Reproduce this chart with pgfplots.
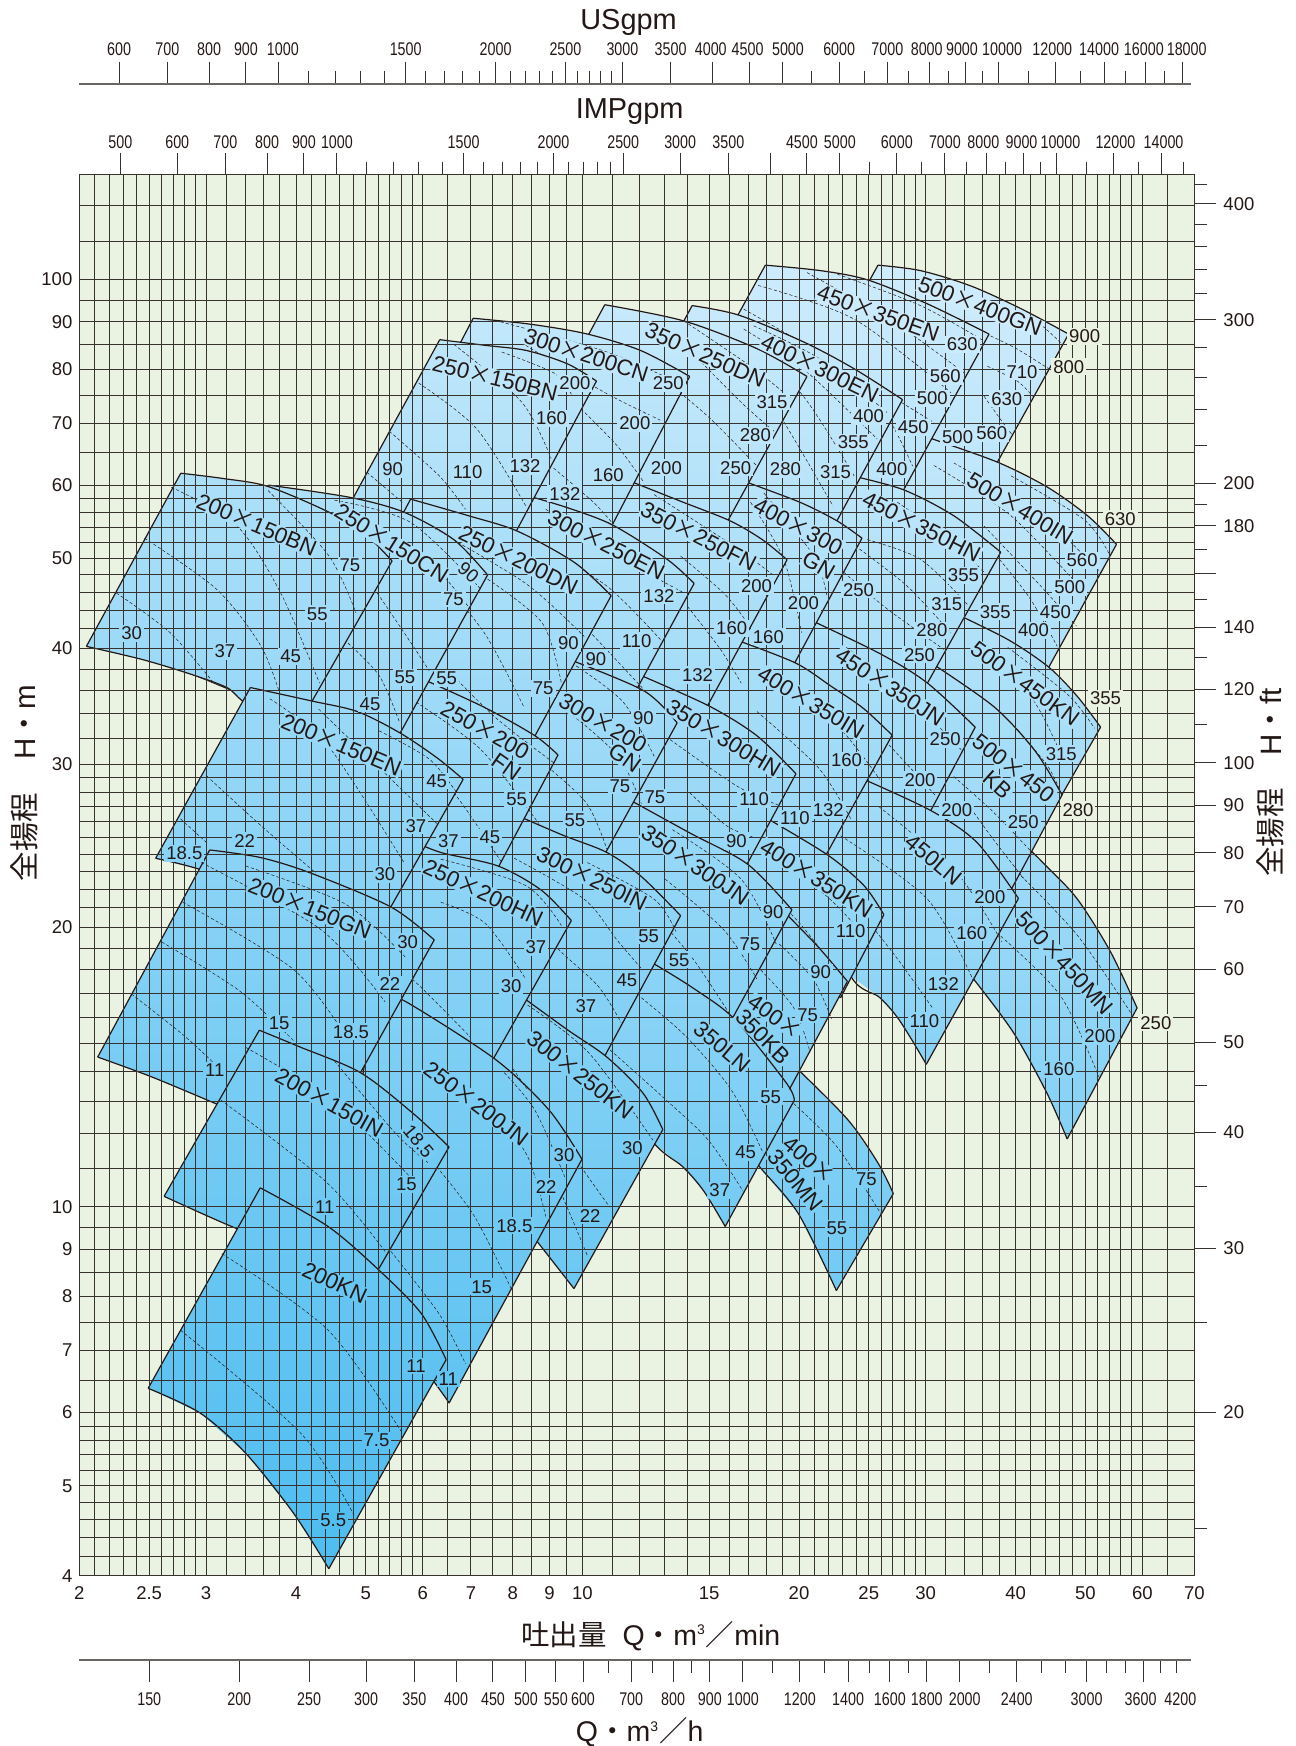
\documentclass[border=0pt]{standalone}
\usepackage{fontspec}
\usepackage{pgfplots}
\pgfplotsset{compat=1.18}
\setmainfont{Liberation Sans}
\newfontfamily\cjk{Noto Sans CJK JP}
\newfontfamily\narrowf[FakeStretch=0.78]{Liberation Sans}
\definecolor{lc}{RGB}{206,236,252}
\definecolor{dc}{RGB}{78,189,240}
\definecolor{bg}{RGB}{234,242,226}
\definecolor{gl}{RGB}{55,50,46}
\definecolor{ink}{RGB}{35,24,21}
\newcommand{\X}{{\cjk ×}}
\newcommand{\lab}{\fontsize{9.3}{9.3}\selectfont\color{ink}}
\newcommand{\smalllab}{\fontsize{9.2}{9}\selectfont\narrowf\color{ink}}
\newcommand{\sL}[2]{\hspace*{#1}#2\hspace*{-#1}}
\pgfplotsset{
 ol/.style={draw=ink,line width=.6bp,forget plot,line join=round},
 ds/.style={draw=ink,line width=.25bp,dash pattern=on 1.6bp off 1.1bp,smooth,forget plot},
}
\newcommand{\Reg}[8]{%
 \addplot[draw=none,top color=lc!#1!dc,bottom color=lc!#2!dc,forget plot] coordinates {#3 #4 #5 #6 #7 #8} -- cycle;
 \addplot[ol,smooth] coordinates {#3 #4 #5};
 \addplot[ol] coordinates {#5 #6};
 \addplot[ol,smooth] coordinates {#6 #7 #8};
 \addplot[ol] coordinates {#8 #3};
}
\newcommand{\D}[1]{\addplot[ds] coordinates {#1};}
\newcommand{\Lb}[4][0]{%
 \pgfmathsetmacro\T{min(100,max(0,100*(.000213*(#2-300)+.000774*(1400-#3))))}%
 \colorlet{hc}{lc!\T!dc}%
 \node[fill=hc,inner sep=1pt,rotate=#1,font=\lab] at (#2,#3) {#4};}
\newcommand{\LbO}[3]{\node[fill=bg,inner sep=1pt,font=\lab] at (#1,#2) {#3};}
\newcommand{\Nm}[4]{%
 \pgfmathsetmacro\T{min(100,max(0,100*(.000213*(#1-300)+.000774*(1400-#2))))}%
 \colorlet{hc}{lc!\T!dc}%
 \node[fill=hc,inner sep=.5pt,rotate=#3,font=\fontsize{11.2}{11.2}\selectfont\color{ink}] at (#1,#2) {#4};}
\begin{document}
\begin{tikzpicture}
\path[use as bounding box] (0,0) rectangle (648bp,873bp);
\begin{axis}[at={(39.7bp,85.15bp)},anchor=south west,scale only axis,width=557.5bp,height=700.5bp,
 xmode=log,ymode=log,xmin=2,xmax=70,ymin=4,ymax=129.7,
 axis background/.style={fill=bg},axis line style={draw=none},xtick=\empty,ytick=\empty,
]
% 500x400GN
\Reg{100}{86}{(25.52,103.6)}{(29.23,102.2)(34.3,98.4)(40.25,93.0)}{(46.87,87.3)}{(35.9,60.1)}{}{(19.58,71.3)}
\D{(36.18,93.7)(41.5,91.0)(45.7,85.4)}\D{(36.55,86.9)(39.8,84.1)(44.1,80.0)}\D{(36.18,80.6)(39.8,77.7)(41.8,74.8)}\D{(35.8,74.8)(37.75,70.6)(39.25,67.8)}
% 500x400IN
\Reg{91}{73}{(29.0,68.2)}{(30.35,67.3)(37.4,63.5)(43.8,59.7)(49.8,55.6)}{(54.6,51.8)}{(42.45,36.3)}{}{(22.6,47.9)}
\D{(39.0,61.4)(49.2,55.1)(53.4,50.5)}\D{(32.5,63.4)(42.9,55.6)(51.9,48.3)}\D{(30.5,63.0)(39.0,55.6)(49.8,45.6)}\D{(35.8,54.2)(42.45,47.1)(48.05,42.3)}\D{(37.6,49.9)(41.5,45.2)(45.2,40.2)}
% 450x350EN
\Reg{99}{82}{(17.82,103.6)}{(21.25,102.2)(24.66,99.9)(29.88,94.1)}{(36.37,87.3)}{(26.57,55.9)}{}{(13.02,66.4)}
\D{(22.42,101.3)(29.23,93.7)(35.7,85.9)}\D{(20.35,101.7)(26.85,89.9)(33.8,79.0)}\D{(17.42,98.5)(23.65,90.6)(32.2,75.5)}\D{(16.63,92.9)(21.95,82.0)(30.5,70.1)}\D{(24.15,76.1)(26.57,70.1)(28.5,62.9)}
% 500x450KN
\Reg{79}{65}{(32.3,43.8)}{(38.6,40.9)(43.96,38.2)(48.2,35.5)}{(51.9,32.9)}{(44.4,26.6)}{}{(27.6,35.5)}
\D{(38.6,40.1)(46.87,35.6)(50.9,32.8)}\D{(35.3,39.3)(41.4,35.6)(45.2,31.4)}
% 500x450MN
\Reg{64}{43}{(39.25,25.3)}{(43.65,23.3)(48.2,21.46)(53.55,18.84)}{(58.3,16.38)}{(46.65,11.83)}{(43.75,13.25)(39.35,15.39)(34.64,17.59)}{(33.0,18.33)}
\D{(40.25,22.75)(48.3,19.58)(57.4,16.1)}\D{(37.75,19.58)(45.7,16.87)(51.6,13.81)}
% 500x450KB
\Reg{74}{58}{(30.07,38.7)}{(36.95,34.6)(42.13,31.0)}{(45.9,27.8)}{(37.88,21.05)}{}{(24.84,29.5)}
\D{(32.5,29.1)(36.95,26.6)(41.5,24.2)}\D{(33.95,27.2)(37.0,24.8)(40.6,22.6)}\D{(39.8,32.7)(43.8,29.9)(45.7,28.0)}
% 450x350HN
\Reg{86}{70}{(23.5,61.4)}{(27.7,59.3)(32.5,55.6)}{(37.75,50.8)}{(28.7,34.7)}{}{(17.84,41.9)}
\D{(27.15,57.5)(32.5,52.0)(35.8,48.3)}\D{(24.66,52.4)(29.23,49.9)(34.0,44.55)}\D{(24.05,51.2)(28.0,46.7)(32.2,41.57)}\D{(22.9,48.3)(26.3,44.1)(31.5,39.9)}
% 400x300EN
\Reg{95}{79}{(14.11,93.7)}{(16.38,91.5)(20.14,85.6)(23.65,80.1)}{(27.6,74.2)}{(21.5,51.8)}{}{(11.0,65.5)}
\D{(17.17,89.1)(21.25,82.0)(26.3,71.8)}\D{(16.63,88.4)(20.14,80.0)(25.45,67.3)}\D{(16.27,85.6)(19.9,75.6)(23.65,61.4)}\D{(16.78,80.1)(18.9,70.2)(22.1,57.0)}
% 450x350JN
\Reg{75}{60}{(20.35,43.1)}{(25.74,39.45)(29.88,36.7)}{(34.8,32.9)}{(29.0,25.2)}{}{(17.0,33.0)}
\D{(23.07,40.1)(28.5,35.1)(33.4,31.0)}\D{(21.9,36.1)(25.6,32.3)(30.6,27.8)}
% 400x300GN
\Reg{83}{69}{(16.44,60.8)}{(19.9,57.5)(22.4,54.9)}{(24.25,52.6)}{(18.9,36.7)}{}{(12.8,42.4)}
\D{(17.73,58.85)(20.8,50.3)(21.7,45.5)}\D{(17.0,57.5)(18.9,49.9)(20.0,41.6)}
% 450LN
\Reg{66}{46}{(23.9,29.1)}{(30.18,26.75)(35.0,24.7)}{(39.95,21.5)}{(29.77,14.24)}{(28.55,15.05)(27.15,16.0)(25.64,16.82)(23.4,17.73)}{(20.7,22.55)}
\D{(25.6,27.0)(32.85,22.87)(37.88,19.3)}\D{(22.65,25.12)(29.88,21.46)(34.6,17.53)}\D{(23.5,21.34)(27.05,18.58)(30.4,16.36)}
% 400x350IN
\Reg{72}{56}{(16.17,40.9)}{(19.6,38.6)(21.95,36.44)(24.32,34.5)}{(26.7,32.25)}{(20.85,22.75)}{}{(12.6,28.86)}
\D{(17.98,37.1)(22.26,33.2)(25.65,28.9)}\D{(17.35,34.2)(21.1,29.75)(23.4,26.2)}
% 350x250DN
\Reg{94}{77}{(10.68,93.9)}{(13.74,90.2)(17.35,84.2)}{(20.35,78.6)}{(15.3,52.4)}{}{(8.05,62.6)}
\D{(13.74,90.2)(17.0,80.6)(19.3,74.5)}\D{(13.35,87.05)(16.5,73.7)(18.4,68.4)}\D{(12.5,79.5)(14.8,71.3)(17.35,62.9)}
% 350x250FN
\Reg{81}{64}{(11.33,61.0)}{(13.6,57.65)(15.93,54.9)(17.65,52.4)}{(19.1,49.85)}{(14.25,32.8)}{}{(8.49,40.1)}
\D{(12.5,58.6)(16.1,51.6)(18.2,48.1)}\D{(13.6,50.3)(15.6,45.9)(16.7,42.98)}\D{(13.9,44.4)(15.45,39.9)(16.5,36.7)}
% 400x350KN
\Reg{61}{48}{(17.66,26.4)}{(21.7,23.97)(24.4,22.2)}{(26.0,20.65)}{(22.65,16.8)}{}{(15.4,21.5)}
\D{(18.63,23.8)(21.9,21.46)(24.6,19.5)}\D{(17.35,22.55)(19.9,20.2)(22.4,17.95)}
% 400x350MN
\Reg{45}{28}{(18.63,14.68)}{(19.8,14.05)(23.2,12.4)(25.55,11.13)}{(26.8,10.33)}{(22.35,8.12)}{(19.8,9.83)(17.5,11.04)}{(16.73,11.6)}
\D{(19.5,12.92)(22.4,11.6)(25.75,9.83)}
% 400x350KB
\Reg{54}{40}{(18.63,21.05)}{(21.04,19.1)}{(23.15,17.5)}{(18.83,12.97)}{}{(15.6,16.4)}
\D{(18.63,19.2)(20.75,17.6)(22.0,15.95)}\D{(17.35,18.17)(19.5,16.4)(20.55,14.68)}
% 350x300HN
\Reg{68}{53}{(11.66,37.75)}{(14.86,34.7)(17.35,32.2)}{(19.65,29.3)}{(16.15,22.1)}{}{(9.62,28.5)}
\D{(13.15,31.9)(16.3,28.4)(18.7,27.05)}\D{(14.0,27.95)(15.75,25.75)(17.1,25.05)}
% 300x200CN
\Reg{90}{74}{(7.02,90.8)}{(8.4,89.5)(10.08,87.35)(11.98,83.8)}{(14.0,78.6)}{(10.55,51.5)}{}{(5.28,59.4)}
\D{(7.66,90.0)(10.75,83.5)(13.75,76.85)}\D{(8.3,84.9)(10.65,75.6)(12.75,70.5)}\D{(9.9,72.5)(11.1,66.2)(12.1,60.4)}\D{(9.07,62.6)(10.3,57.5)(10.94,54.6)}
% 300x250EN
\Reg{79}{63}{(8.25,58.6)}{(9.5,56.7)(10.97,54.3)(13.03,49.9)}{(14.2,47.0)}{(11.33,34.0)}{}{(6.58,42.4)}
\D{(8.85,56.5)(11.1,50.35)(13.75,45.9)}\D{(8.8,51.2)(10.75,46.7)(12.75,40.9)}\D{(8.85,46.3)(10.2,41.6)(12.1,36.1)}
% 350x300JN
\Reg{59}{43}{(11.33,27.7)}{(14.0,25.3)(16.85,23.4)}{(19.4,20.9)}{(15.5,15.2)}{}{(9.05,20.1)}
\D{(13.25,25.5)(16.5,22.55)(18.45,19.2)}\D{(12.95,22.55)(15.6,19.9)(17.35,17.6)}\D{(13.2,19.75)(14.3,18.3)(16.1,15.9)}
% 300x200GN
\Reg{67}{52}{(9.47,39.0)}{(12.1,36.0)}{(13.45,33.25)}{(10.3,22.8)}{}{(7.2,26.8)}
\D{(9.75,38.3)(11.33,35.0)(12.5,30.6)}\D{(9.5,34.2)(11.15,30.6)(12.0,27.2)}\D{(8.55,30.6)(10.05,27.3)(10.75,24.3)}
% 350LN
\Reg{49}{30}{(12.0,18.5)}{(12.5,18.27)(14.25,17.15)(16.2,15.9)(19.05,13.6)}{(19.55,13.03)}{(15.68,9.52)}{(14.65,10.39)(13.7,11.04)(12.5,11.7)}{(10.4,14.08)}
\D{(12.0,16.8)(13.85,15.25)(16.0,13.35)(17.7,11.42)}\D{(10.86,14.76)(12.85,13.13)(14.85,11.8)(16.6,10.39)}
% 250x150BN
\Reg{87}{72}{(6.31,86.1)}{(7.29,84.9)(8.33,83.8)(9.49,81.06)}{(10.4,77.7)}{(7.75,50.6)}{}{(4.67,56.1)}
\D{(5.0,61.95)(5.6,57.5)}\D{(5.37,68.6)(6.3,61.4)(6.85,56.5)}\D{(5.9,77.3)(7.1,69.0)(8.3,57.0)}\D{(6.6,85.1)(8.2,73.7)(9.0,64.1)}\D{(7.69,83.5)(9.1,79.2)(9.6,75.2)}
% 250x200DN
\Reg{76}{58}{(5.75,57.95)}{(6.92,55.6)(8.09,53.5)(9.7,49.5)}{(10.9,45.6)}{(8.25,30.6)}{}{(4.37,38.8)}
\D{(6.2,53.8)(8.3,47.0)(10.0,41.2)}\D{(7.35,47.5)(8.75,42.6)(9.3,36.7)}\D{(6.3,47.7)(7.3,41.4)(8.25,34.6)}
% 300x250IN
\Reg{56}{38}{(8.0,26.5)}{(9.35,25.15)(10.75,24.1)(12.0,22.7)}{(13.6,20.6)}{(10.3,13.8)}{}{(6.07,17.67)}
\D{(8.0,23.76)(10.0,21.46)(11.1,19.4)(12.05,18.0)}\D{(7.4,22.55)(9.18,19.0)(10.45,17.3)(11.25,15.8)}\D{(10.1,23.5)(12.5,21.46)(13.4,19.8)}
% 250x200FN
\Reg{64}{49}{(5.87,37.3)}{(7.25,34.6)(8.55,32.2)}{(9.2,30.7)}{(7.35,22.1)}{}{(4.7,26.85)}
\D{(6.67,37.0)(7.6,33.5)(9.08,30.1)}\D{(5.85,35.0)(7.2,31.1)(8.65,25.9)}\D{(5.7,31.9)(6.65,27.75)(7.69,23.5)}
% 250x150CN
\Reg{75}{56}{(3.655,60.0)}{(4.74,58.2)(5.63,56.1)(6.6,52.4)}{(7.35,48.0)}{(5.35,30.7)}{}{(2.67,38.4)}
\D{(4.51,57.8)(5.75,54.7)(7.2,46.3)}\D{(5.2,53.4)(6.2,49.0)(7.0,43.8)}\D{(5.17,45.9)(5.8,40.2)(6.1,37.85)}\D{(4.65,40.9)(5.2,37.4)(5.55,33.3)}
% 200x150BN
\Reg{74}{56}{(2.763,61.8)}{(3.16,61.0)(3.65,59.8)(4.43,56.1)(5.0,52.9)}{(5.42,49.7)}{(4.05,33.4)}{(3.56,34.2)(3.35,35.2)(3.2,36.3)(2.86,37.5)(2.45,38.9)}{(2.045,40.2)}
\D{(3.65,59.2)(4.43,50.35)(4.83,43.7)}\D{(2.68,59.7)(3.3,54.3)(3.8,45.9)(4.3,36.7)}\D{(2.46,52.6)(3.1,46.3)(3.57,40.2)(3.8,35.5)}\D{(2.25,45.9)(2.67,41.6)(3.07,36.7)}
% 300x250KN
\Reg{44}{23}{(8.1,16.96)}{(9.5,15.5)(10.75,14.5)(12.07,13.25)}{(12.85,12.11)}{(9.68,8.16)}{(8.6,9.18)(8.12,9.7)}{(7.35,14.48)}
\D{(8.35,16.5)(10.15,14.65)(12.45,11.8)}\D{(7.97,14.08)(9.95,10.98)(10.85,9.99)}\D{(8.85,11.3)(9.7,9.56)(10.1,8.86)}
% 250x200HN
\Reg{52}{36}{(5.75,24.85)}{(6.33,24.1)(7.6,23.3)(8.72,21.95)}{(9.6,20.35)}{(7.2,13.68)}{}{(4.35,16.65)}
\D{(6.33,23.7)(8.3,22.2)(9.3,20.1)}\D{(6.33,21.3)(7.3,20.2)(8.3,17.6)}\D{(5.2,18.85)(5.85,17.45)(6.95,15.25)}
% 200x150EN
\Reg{60}{43}{(3.45,36.3)}{(4.2,35.1)(4.85,34.2)(5.55,32.45)(6.25,30.5)}{(6.8,28.9)}{(5.2,20.0)}{(3.94,21.35)(2.94,23.1)}{(2.55,23.75)}
\D{(5.2,32.6)(6.1,30.4)(6.65,28.0)}\D{(4.29,34.4)(5.2,29.75)(6.25,25.9)}\D{(3.67,35.3)(4.42,31.4)(5.63,23.5)}\D{(3.0,29.15)(3.57,25.75)(4.25,22.9)}\D{(2.76,26.2)(3.0,24.7)}
% 250x200JN
\Reg{42}{13}{(5.16,17.1)}{(5.7,16.59)(7.55,14.4)(8.95,12.7)}{(9.93,11.25)}{(6.5,6.14)}{(6.2,6.47)}{(4.51,9.05)}
\D{(7.75,13.95)(8.55,12.7)(9.4,10.77)}\D{(7.55,12.6)(8.35,11.33)(8.85,9.76)}\D{(6.25,11.04)(7.05,9.76)(7.95,8.12)}\D{(5.4,8.95)(6.3,7.66)(6.85,6.77)}
% 200x150GN
\Reg{48}{29}{(3.03,24.25)}{(3.56,23.8)(4.18,22.9)(5.4,21.05)}{(6.2,19.4)}{(4.7,13.15)}{(3.6,12.27)(3.1,12.9)(2.52,13.8)}{(2.12,14.5)}
\D{(3.4,23.3)(4.67,21.2)(5.65,18.6)}\D{(2.95,23.5)(4.32,19.9)(5.3,16.63)}\D{(2.78,21.3)(3.95,18.05)(4.67,15.3)}\D{(2.6,19.3)(3.33,17.1)(3.96,15.1)}\D{(2.36,16.96)(2.79,15.3)(3.13,14.08)}
% 200x150IN
\Reg{36}{18}{(3.55,15.5)}{(4.03,14.88)(4.9,13.95)(5.8,12.6)}{(6.5,11.6)}{(5.0,8.14)}{(4.05,8.93)(3.27,9.5)}{(2.62,10.26)}
\D{(3.14,13.03)(4.4,10.62)(5.3,8.95)}\D{(3.4,14.85)(4.51,12.95)(5.9,10.53)}\D{(4.51,14.36)(5.48,12.0)(6.1,11.13)}
% 200KN
\Reg{25}{0}{(3.56,10.48)}{(4.42,9.52)(5.2,8.54)(5.95,7.67)}{(6.44,6.84)}{(4.43,4.07)}{(3.96,4.67)(3.4,5.42)(2.94,5.99)}{(2.49,6.37)}
\D{(3.15,8.9)(4.42,7.36)(5.6,5.7)}\D{(2.76,7.36)(4.05,5.7)(4.8,4.65)}
\end{axis}
% grid, frame and main tick labels over the regions
\begin{axis}[at={(39.7bp,85.15bp)},anchor=south west,scale only axis,width=557.5bp,height=700.5bp,
 xmode=log,ymode=log,xmin=2,xmax=70.88,ymin=4,ymax=129.7,
 axis line style={draw=gl,line width=.6bp},
 major tick length=0pt,minor tick length=0pt,
 xtick={2,2.5,3,4,5,6,7,8,9,10,15,20,25,30,40,50,60,70.88},
 xticklabels={2,2.5,3,4,5,6,7,8,9,10,15,20,25,30,40,50,60,70},
 ytick={4,5,6,7,8,9,10,20,30,40,50,60,70,80,90,100},
 yticklabels={4,5,6,7,8,9,10,20,30,40,50,60,70,80,90,100},
 minor xtick={2.1,2.2,2.3,2.4,2.6,2.7,2.8,2.9,3.2,3.4,3.6,3.8,4.2,4.4,4.6,4.8,5.2,5.4,5.6,5.8,6.5,7.5,8.5,9.5,11,12,13,14,16,17,18,19,21,22,23,24,26,27,28,29,32,34,36,38,42,44,46,48,52,54,56,58,65},
 minor ytick={4.2,4.4,4.6,4.8,5.2,5.4,5.6,5.8,6.5,7.5,8.5,9.5,11,12,13,14,15,16,17,18,19,21,22,23,24,25,26,27,28,29,32,34,36,38,42,44,46,48,52,54,56,58,65,75,85,95,110,120},
 grid=both,major grid style={draw=gl,line width=.5bp},minor grid style={draw=gl,line width=.5bp},
 tick label style={font=\lab},xticklabel style={yshift=-2bp},
]
\end{axis}
% US gpm scale
\begin{axis}[at={(39.7bp,831.15bp)},anchor=north west,scale only axis,width=555.85bp,height=1bp,xmode=log,xmin=528.4,xmax=18492,ymin=0,ymax=1,
 axis y line=none,axis x line*=top,axis line style={draw=gl!75,line width=1.1bp,-},clip=false,
 tick align=outside,major tick length=11bp,minor tick length=6.5bp,tick style={color=gl,line width=.5bp},tick label style={font=\smalllab},
 xticklabel style={yshift=-.5bp},
 xtick={600,700,800,900,1000,1500,2000,2500,3000,3500,4000,4500,5000,6000,7000,8000,9000,10000,12000,14000,16000,18000},
 xticklabels={600,700,800,900,\sL{2bp}{1000},1500,2000,2500,3000,3500,\sL{-.8bp}{4000},\sL{-.8bp}{4500},\sL{2.9bp}{5000},6000,7000,\sL{-1.2bp}{8000},\sL{-2bp}{9000},\sL{1.6bp}{10000},\sL{-1.8bp}{12000},\sL{-2.5bp}{14000},\sL{-1bp}{16000},\sL{2bp}{18000}},
 minor xtick={1100,1200,1300,1400,1600,1700,1800,1900,2100,2200,2300,2400,2600,2700,2800,2900,5500,6500,7500,8500,9500,11000,13000,15000,17000}]
\end{axis}
% IMP gpm scale
\begin{axis}[at={(39.7bp,785.65bp)},anchor=north west,scale only axis,width=557.5bp,height=1bp,xmode=log,xmin=438.7,xmax=15553,ymin=0,ymax=1,
 axis y line=none,axis x line*=top,axis line style={draw=none},clip=false,
 tick align=outside,major tick length=11bp,minor tick length=6.5bp,tick style={color=gl,line width=.5bp},tick label style={font=\smalllab},
 xticklabel style={yshift=-1.3bp},
 xtick={500,600,700,800,900,1000,1500,2000,2500,3000,3500,4000,4500,5000,6000,7000,8000,9000,10000,12000,14000},
 xticklabels={500,600,700,800,900,1000,1500,2000,2500,3000,3500,,\sL{-2.5bp}{4500},5000,6000,7000,\sL{-1.7bp}{8000},\sL{-1bp}{9000},\sL{2bp}{10000},\sL{1bp}{12000},\sL{1bp}{14000}},
 minor xtick={1100,1200,1300,1400,1600,1700,1800,1900,2100,2200,2300,2400,5500,6500,7500,8500,9500,11000,13000,15000}]
\end{axis}
% m3/h scale
\begin{axis}[at={(39.7bp,43bp)},anchor=south west,scale only axis,width=555.85bp,height=1bp,xmode=log,xmin=120,xmax=4190,ymin=0,ymax=1,
 axis y line=none,axis x line*=bottom,axis line style={draw=gl!75,line width=1.1bp,-},clip=false,
 tick align=outside,major tick length=11bp,minor tick length=6.5bp,tick style={color=gl,line width=.5bp},tick label style={font=\smalllab},
 xtick={150,200,250,300,350,400,450,500,550,600,700,800,900,1000,1200,1400,1600,1800,2000,2400,3000,3600},
 xticklabels={150,200,250,300,350,400,450,500,550,600,700,800,900,1000,1200,1400,1600,1800,\sL{2.5bp}{2000},2400,3000,\sL{-1.5bp}{3600}},
 minor xtick={650,750,850,1100,1300,1500,1700,2200,2600,2800,3200,3400,3800,4000},
 xticklabel style={yshift=-2bp}]
\end{axis}
% ft scale
\begin{axis}[at={(597.2bp,85.15bp)},anchor=south east,scale only axis,width=1bp,height=700.5bp,ymode=log,
 ymin=13.33,ymax=430.1,xmin=0,xmax=1,axis x line=none,axis y line*=right,axis line style={draw=none},
 tick align=outside,major tick length=11bp,minor tick length=6.5bp,tick style={color=gl,line width=.5bp},
 tick label style={font=\lab},clip=false,
 ytick={20,30,40,50,60,70,80,90,100,120,140,160,180,200,300,400},
 yticklabels={20,30,40,50,60,70,80,90,100,120,140,,180,200,300,400},
 minor ytick={15,25,35,45,110,130,150,170,190,220,240,260,280,320,340,360,380,420}]
\end{axis}
\begin{scope}[shift={(0,873bp)},x=0.55625bp,y=-0.55675bp]
\node[font=\fontsize{14.5}{14.5}\selectfont\color{ink}] at (565,20) {USgpm};
\node[font=\fontsize{14.5}{14.5}\selectfont\color{ink}] at (566,100) {IMPgpm};
\node[font=\fontsize{14.3}{14.3}\selectfont\color{ink}] at (585,1469) {{\cjk 吐出量}\ \ Q{\cjk ・}m\textsuperscript{\fontsize{7}{7}\selectfont 3}{\cjk ／}min};
\node[font=\fontsize{14.3}{14.3}\selectfont\color{ink}] at (575,1556) {Q{\cjk ・}m\textsuperscript{\fontsize{7}{7}\selectfont 3}{\cjk ／}h};
\node[rotate=90,font=\fontsize{14.8}{14.8}\selectfont\color{ink}] at (22,703) {{\cjk 全揚程}\ \ \ \ H{\cjk ・}m};
\node[rotate=90,font=\fontsize{14.8}{14.8}\selectfont\color{ink}] at (1142,703) {{\cjk 全揚程}\ \ \ \ H{\cjk ・}ft};
\node[font=\smalllab] at (1061,1526) {4200};
% outside labels
\LbO{975}{302}{900}\LbO{960.7}{329.5}{800}\LbO{1007}{466}{630}\LbO{993.7}{627}{355}\LbO{969}{727.5}{280}\LbO{1039}{918.5}{250}
% names
\Nm{881}{275}{-21}{500\X400GN}\Nm{789.5}{281.5}{-20}{450\X350EN}\Nm{737}{331}{-26}{400\X300EN}\Nm{634}{319}{-24}{350\X250DN}
\Nm{527}{319}{-18}{300\X200CN}\Nm{445}{339.7}{-14}{250\X150BN}\Nm{230.7}{471.5}{-23}{200\X150BN}\Nm{352}{488}{-32}{250\X150CN}
\Nm{466}{503}{-26}{250\X200DN}\Nm{545}{489.5}{-27}{300\X250EN}\Nm{628}{482}{-27}{350\X250FN}
\Nm{717.6}{473}{-28}{400\X300}\Nm{736}{507.6}{-30}{GN}\Nm{828.4}{473}{-27}{450\X350HN}\Nm{917}{457}{-31}{500\X400IN}
\Nm{921.5}{614}{-36}{500\X450KN}\Nm{800}{617}{-33}{450\X350JN}\Nm{729}{631}{-31}{400\X350IN}\Nm{650.5}{663}{-31}{350\X300HN}
\Nm{542}{649.6}{-30}{300\X200}\Nm{561.6}{681}{-35}{GN}\Nm{436}{655.6}{-29}{250\X200}\Nm{455}{688.5}{-35}{FN}
\Nm{307}{669}{-23}{200\X150EN}\Nm{434.4}{802}{-25}{250\X200HN}\Nm{532}{789}{-26}{300\X250IN}\Nm{625}{777}{-34}{350\X300JN}
\Nm{734}{789}{-32}{400\X350KN}\Nm{839}{772.4}{-40}{450LN}\Nm{911}{690}{-38}{500\X450}\Nm{897}{705}{-42}{KB}\Nm{957}{865}{-47}{500\X450MN}
\Nm{278.6}{815.8}{-22}{200\X150GN}\Nm{428}{991}{-37}{250\X200JN}\Nm{521.5}{965.4}{-38}{300\X250KN}\Nm{649}{940}{-40}{350LN}
\Nm{696.6}{913}{-35}{400\X}\Nm{686}{931}{-45}{350KB}\Nm{727}{1042}{-40}{400\X}\Nm{715}{1060}{-50}{350MN}
\Nm{296}{990}{-29}{200\X150IN}\Nm{301}{1152}{-25}{200KN}
% numbers
\Lb{865}{309.4}{630}\Lb{918.7}{334}{710}\Lb{849.7}{337.7}{560}\Lb{905}{358.3}{630}\Lb{838}{357.7}{500}\Lb{780.7}{373.6}{400}
\Lb{821}{384}{450}\Lb{860.8}{392.5}{500}\Lb{891.5}{389.2}{560}\Lb{767}{397.3}{355}\Lb{751}{423.7}{315}\Lb{801.7}{421.6}{400}
\Lb{706}{421.5}{280}\Lb{694}{361}{315}\Lb{679}{391}{280}\Lb{661.3}{420}{250}\Lb{972.7}{503}{560}\Lb{961.6}{527.6}{500}
\Lb{948.7}{550}{450}\Lb{929}{566}{400}\Lb{894.7}{549.5}{355}\Lb{866}{516.5}{355}\Lb{851}{542.5}{315}\Lb{837.7}{566}{280}
\Lb{826.6}{588}{250}\Lb{771.7}{529.6}{250}\Lb{722.2}{542}{200}\Lb{680}{526.3}{200}\Lb{690.7}{571.8}{160}\Lb{657.7}{564.3}{160}
\Lb{954}{677}{315}\Lb{849.6}{664}{250}\Lb{827}{700.5}{200}\Lb{860}{727.5}{200}\Lb{919.8}{738.8}{250}\Lb{761}{683}{160}
\Lb{744.5}{727.5}{132}\Lb{714.6}{735}{110}\Lb{764.6}{836}{110}\Lb{889.8}{806}{200}\Lb{873.5}{837.6}{160}\Lb{848}{883.7}{132}
\Lb{831}{916.7}{110}\Lb{988.7}{930.5}{200}\Lb{951.8}{960.4}{160}\Lb{695}{819.4}{90}\Lb{737.6}{873.3}{90}\Lb{726}{911.6}{75}
\Lb{692.8}{985}{55}\Lb{516.8}{344.2}{200}\Lb{600.7}{344.2}{250}\Lb{495.8}{375.7}{160}\Lb{570.7}{380}{200}\Lb{353}{421.5}{90}
\Lb{420.3}{423.6}{110}\Lb{472}{419}{132}\Lb{599}{420}{200}\Lb{546.8}{426.6}{160}\Lb{507.8}{443.6}{132}\Lb{314.6}{508}{75}
\Lb[-40]{421}{514.3}{90}\Lb{407.5}{538}{75}\Lb{592.3}{535.2}{132}\Lb{511}{577.8}{90}\Lb{572.2}{575.4}{110}\Lb{535.7}{591.8}{90}
\Lb{627}{606.2}{132}\Lb{364}{608.3}{55}\Lb{401.5}{609.2}{55}\Lb{332.6}{632.3}{45}\Lb{488.3}{618.2}{75}\Lb{578.3}{645.2}{90}
\Lb{464.5}{717.5}{55}\Lb{557.2}{705.9}{75}\Lb{588.7}{716}{75}\Lb{678}{717.8}{110}\Lb{516.8}{736.4}{55}\Lb{440.4}{752}{45}
\Lb{403}{755}{37}\Lb{662}{755.3}{90}\Lb{481.8}{851}{37}\Lb{583}{840.6}{55}\Lb{674}{848}{75}\Lb{610.5}{862}{55}\Lb{459.4}{885.2}{30}
\Lb{563.5}{880.7}{45}\Lb{526.6}{903.2}{37}\Lb{507}{1037.5}{30}\Lb{568.4}{1031.3}{30}\Lb{670.3}{1035}{45}
\Lb{118.4}{568.8}{30}\Lb{202.2}{585.2}{37}\Lb{261.2}{589.7}{45}\Lb{285.2}{551.4}{55}\Lb{392.5}{701.4}{45}\Lb{373.8}{741.5}{37}
\Lb{346}{785.2}{30}\Lb{220}{755}{22}\Lb{165.7}{766.4}{18.5}\Lb{366.4}{845.7}{30}\Lb{193}{961}{11}\Lb{251}{919}{15}
\Lb{315.5}{926.6}{18.5}\Lb{350.5}{884}{22}\Lb[-50]{376.3}{1025}{18.5}\Lb{365.3}{1063.7}{15}\Lb{292}{1083.7}{11}\Lb{491}{1065.8}{22}
\Lb{462.3}{1100.8}{18.5}\Lb{530.5}{1091.8}{22}\Lb{433}{1155.6}{15}\Lb{374}{1226.8}{11}\Lb{403}{1238.5}{11}\Lb{338.5}{1293.9}{7.5}
\Lb{299.6}{1365.7}{5.5}\Lb{647}{1068.8}{37}\Lb{752.3}{1103.2}{55}\Lb{778.8}{1058.9}{75}
\end{scope}
\end{tikzpicture}
\end{document}
